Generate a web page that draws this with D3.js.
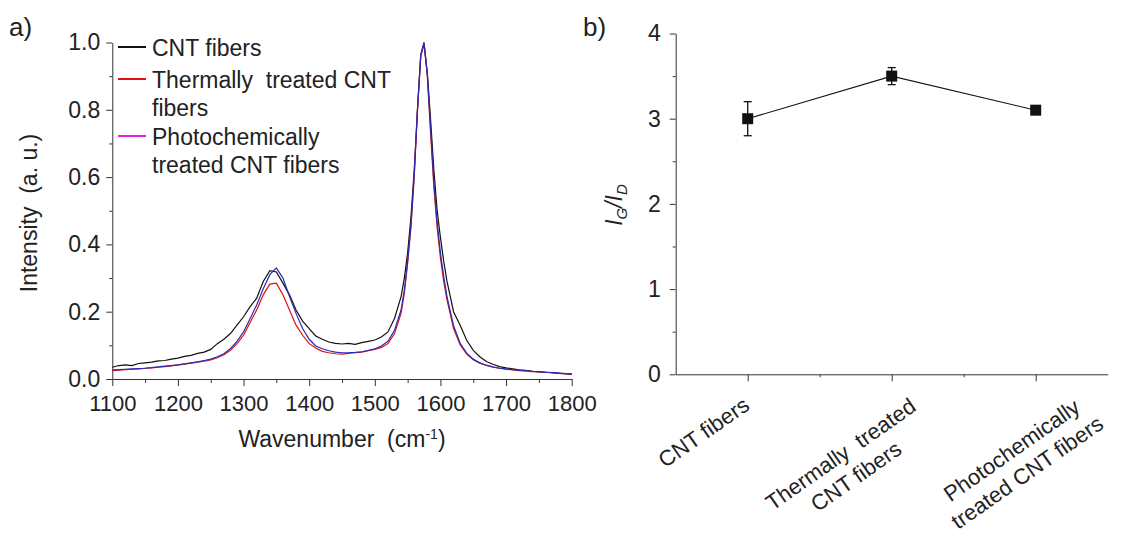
<!DOCTYPE html>
<html>
<head>
<meta charset="utf-8">
<script src="https://cdn.jsdelivr.net/npm/d3@7"></script>
<style>
  body { margin: 0; background: #fff; }
  text { font-family: "Liberation Sans", Arial, sans-serif; fill: #222; white-space: pre; }
  .domain, .tick line { stroke: #333; }
</style>
</head>
<body>
<svg id="chart" width="1137" height="536"></svg>
<script>
// ---- panel a data: Raman spectra ----
let wavenumber = [1100,1110,1120,1130,1140,1150,1160,1170,1180,1190,1200,1210,1220,1230,1240,1250,1260,1270,1280,1290,
  1300,1310,1320,1330,1340,1350,1360,1370,1380,1390,1400,1410,1420,1430,1440,1450,1460,1470,1480,1490,1500,1510,1520,1530,
  1540,1545,1550,1555,1560,1565,1570,1575,1580,1585,1590,1595,1600,1605,1610,
  1620,1630,1640,1650,1660,1670,1680,1690,1700,1710,1720,1730,1740,1750,1760,1770,1780,1790,1800];
let cntFibers = [0.035,0.040,0.042,0.040,0.046,0.048,0.050,0.054,0.055,0.059,0.062,0.067,0.070,0.076,0.080,0.088,0.105,0.118,0.135,0.160,
  0.185,0.215,0.240,0.290,0.322,0.318,0.285,0.250,0.205,0.172,0.150,0.128,0.118,0.110,0.106,0.104,0.106,0.103,0.108,0.112,0.116,0.125,0.140,0.180,
  0.245,0.300,0.375,0.480,0.620,0.800,0.960,0.995,0.910,0.770,0.620,0.500,0.420,0.350,0.290,
  0.200,0.160,0.115,0.085,0.066,0.052,0.044,0.037,0.033,0.030,0.027,0.026,0.023,0.022,0.020,0.019,0.017,0.016,0.014];
let thermalFibers = [0.025,0.026,0.028,0.029,0.030,0.032,0.033,0.035,0.037,0.039,0.042,0.044,0.047,0.050,0.053,0.057,0.063,0.072,0.085,0.105,
  0.130,0.168,0.205,0.250,0.282,0.285,0.250,0.205,0.160,0.130,0.105,0.092,0.082,0.078,0.075,0.074,0.076,0.078,0.080,0.084,0.088,0.094,0.105,0.135,
  0.195,0.255,0.345,0.450,0.600,0.800,0.960,1.000,0.900,0.730,0.570,0.450,0.360,0.290,0.235,
  0.150,0.102,0.074,0.057,0.047,0.040,0.035,0.032,0.029,0.027,0.025,0.024,0.022,0.021,0.020,0.019,0.017,0.016,0.015];
let photoFibers = [0.027,0.028,0.029,0.030,0.031,0.032,0.034,0.036,0.038,0.040,0.042,0.045,0.048,0.051,0.055,0.059,0.066,0.075,0.090,0.112,
  0.140,0.180,0.220,0.268,0.310,0.330,0.300,0.245,0.195,0.150,0.118,0.098,0.090,0.084,0.080,0.078,0.078,0.079,0.081,0.085,0.090,0.098,0.112,0.145,
  0.205,0.265,0.350,0.455,0.605,0.800,0.965,1.000,0.905,0.745,0.585,0.465,0.375,0.305,0.245,
  0.158,0.106,0.077,0.059,0.048,0.041,0.036,0.032,0.030,0.028,0.026,0.024,0.023,0.021,0.020,0.019,0.018,0.016,0.015];
let legendNames = [["CNT fibers"], ["Thermally  treated CNT", "fibers"], ["Photochemically", "treated CNT fibers"]];

// ---- panel b data: IG/ID ratio ----
let categories = [["CNT fibers"], ["Thermally  treated", "CNT fibers"], ["Photochemically", "treated CNT fibers"]];
let ratio = [3.0, 3.5, 3.1];
let ratioErr = [0.2, 0.1, 0.03];

// where the centre of each category label's first line sits, relative to its tick
let labelOffset = [[-44, 58], [-51, 80], [-24, 76]];

let svg = d3.select("#chart");

// ================= panel a =================
let xA = d3.scaleLinear().domain([1100, 1800]).range([112.3, 571.7]);
let yA = d3.scaleLinear().domain([0, 1]).range([379, 42.5]);

let gA = svg.append("g");

gA.append("g").attr("transform", "translate(0,379)")
  .call(d3.axisBottom(xA).tickValues(d3.range(1150, 1800, 100)).tickSize(4).tickFormat(""))
  .call(g => g.select(".domain").remove());
gA.append("g").attr("transform", "translate(0,379)")
  .call(d3.axisBottom(xA).tickValues(d3.range(1100, 1801, 100)).tickSize(7).tickSizeOuter(0).tickPadding(9).tickFormat(d3.format("d")))
  .call(g => g.selectAll("text").style("font-size", "22px"));

gA.append("g").attr("transform", "translate(112.3,0)")
  .call(d3.axisLeft(yA).tickValues([0.1, 0.3, 0.5, 0.7, 0.9]).tickSize(3).tickFormat(""))
  .call(g => g.select(".domain").remove());
gA.append("g").attr("transform", "translate(112.3,0)")
  .call(d3.axisLeft(yA).tickValues([0, 0.2, 0.4, 0.6, 0.8, 1.0]).tickSize(6).tickSizeOuter(0).tickPadding(6).tickFormat(d3.format(".1f")))
  .call(g => g.selectAll("text").style("font-size", "23px"));

let lineA = (vals) => d3.line()
  .x((d, i) => xA(wavenumber[i]))
  .y(d => yA(d))(vals);

gA.append("path").attr("d", lineA(cntFibers)).attr("fill", "none").attr("stroke", "#111").attr("stroke-width", 1.2);
gA.append("path").attr("d", lineA(thermalFibers)).attr("fill", "none").attr("stroke", "#e01010").attr("stroke-width", 1.2);
gA.append("path").attr("d", lineA(photoFibers)).attr("fill", "none").attr("stroke", "#2a2ab8").attr("stroke-width", 1.2);

// legend
let legendColors = ["#111", "#e01010", "#e020e0"];
let legendY = [47, 79, 136];
legendNames.forEach((lines, i) => {
  gA.append("line").attr("x1", 118).attr("x2", 146)
    .attr("y1", legendY[i]).attr("y2", legendY[i])
    .attr("stroke", legendColors[i]).attr("stroke-width", 2);
  lines.forEach((t, j) => {
    gA.append("text").attr("x", 152).attr("y", legendY[i] + 9 + j * 28)
      .style("font-size", "23px").text(t);
  });
});

gA.append("text").attr("transform", "translate(37,213) rotate(-90)")
  .attr("text-anchor", "middle").style("font-size", "23px").text("Intensity  (a. u.)");

let xt = gA.append("text").attr("x", 342).attr("y", 447).attr("text-anchor", "middle").style("font-size", "23px");
xt.append("tspan").text("Wavenumber  (cm");
xt.append("tspan").attr("dy", -8).style("font-size", "14px").text("-1");
xt.append("tspan").attr("dy", 8).text(")");

svg.append("text").attr("x", 9).attr("y", 36).style("font-size", "26px").text("a)");

// ================= panel b =================
let xB = d3.scaleLinear().domain([0.5, 3.5]).range([675.7, 1107.7]);
let yB = d3.scaleLinear().domain([0, 4]).range([374.3, 33.5]);

let gB = svg.append("g");

gB.append("g").attr("transform", "translate(0,374.3)")
  .call(d3.axisBottom(xB).tickValues([1.5, 2.5]).tickSize(3).tickFormat(""))
  .call(g => g.select(".domain").remove());
gB.append("g").attr("transform", "translate(0,374.3)")
  .call(d3.axisBottom(xB).tickValues([1, 2, 3]).tickSize(7).tickSizeOuter(0).tickFormat(""));

gB.append("g").attr("transform", "translate(675.7,0)")
  .call(d3.axisLeft(yB).tickValues([0.5, 1.5, 2.5, 3.5]).tickSize(3).tickFormat(""))
  .call(g => g.select(".domain").remove());
gB.append("g").attr("transform", "translate(675.7,0)")
  .call(d3.axisLeft(yB).tickValues([0, 1, 2, 3, 4]).tickSize(6).tickSizeOuter(0).tickPadding(9).tickFormat(d3.format("d")))
  .call(g => g.selectAll("text").style("font-size", "23px"));

// category labels, rotated, centre-aligned lines
categories.forEach((lines, i) => {
  let g = gB.append("g")
    .attr("transform", "translate(" + (xB(i + 1) + labelOffset[i][0]) + "," + (374.3 + labelOffset[i][1]) + ") rotate(-35)");
  lines.forEach((t, j) => g.append("text").attr("y", j * 27)
    .attr("text-anchor", "middle").attr("dominant-baseline", "central")
    .style("font-size", "22px").text(t));
});

let pts = ratio.map((v, i) => ({ x: i + 1, y: v, e: ratioErr[i] }));

gB.append("path")
  .attr("d", d3.line().x(d => xB(d.x)).y(d => yB(d.y))(pts))
  .attr("fill", "none").attr("stroke", "#111").attr("stroke-width", 1.1);

let eb = gB.selectAll(".err").data(pts).enter().append("g").attr("class", "err")
  .attr("stroke", "#111").attr("stroke-width", 1.3);
eb.append("line").attr("x1", d => xB(d.x)).attr("x2", d => xB(d.x))
  .attr("y1", d => yB(d.y - d.e)).attr("y2", d => yB(d.y + d.e));
eb.append("line").attr("x1", d => xB(d.x) - 4).attr("x2", d => xB(d.x) + 4)
  .attr("y1", d => yB(d.y + d.e)).attr("y2", d => yB(d.y + d.e));
eb.append("line").attr("x1", d => xB(d.x) - 4).attr("x2", d => xB(d.x) + 4)
  .attr("y1", d => yB(d.y - d.e)).attr("y2", d => yB(d.y - d.e));

gB.selectAll(".pt").data(pts).enter().append("rect").attr("class", "pt")
  .attr("x", d => xB(d.x) - 5.5).attr("y", d => yB(d.y) - 5.5)
  .attr("width", 11).attr("height", 11).attr("fill", "#111");

let yl = gB.append("text").attr("transform", "translate(622,205) rotate(-90)")
  .attr("text-anchor", "middle").style("font-size", "23px").style("font-style", "italic");
yl.append("tspan").text("I");
yl.append("tspan").attr("dy", 5).style("font-size", "15px").text("G");
yl.append("tspan").attr("dy", -5).text("/I");
yl.append("tspan").attr("dy", 5).style("font-size", "15px").text("D");

svg.append("text").attr("x", 583).attr("y", 36).style("font-size", "26px").text("b)");
</script>
</body>
</html>
